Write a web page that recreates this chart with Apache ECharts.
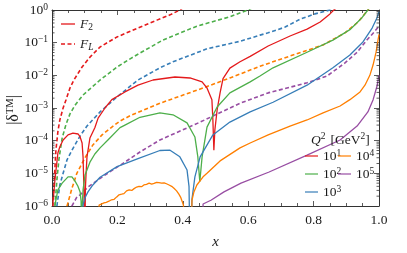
<!DOCTYPE html>
<html><head><meta charset="utf-8">
<script src="https://cdn.jsdelivr.net/npm/echarts@6/dist/echarts.min.js"></script>
<style>html,body{margin:0;padding:0;background:#fff}#c{width:407px;height:253px}</style>
</head><body><div id="c"></div>
<script>
// ---------- data ----------
const qExponents = ['1', '2', '3', '4', '5'];            // Q^2 = 10^n GeV^2
const colors = ['#e41a1c', '#4daf4a', '#377eb8', '#ff7f00', '#984ea3'];
const xTickLabels = ['0.0', '0.2', '0.4', '0.6', '0.8', '1.0'];
const yTickExponents = ['−6', '−5', '−4', '−3', '−2', '−1', '0'];

// F2 (solid lines)
const f2_q1_x = [0.003,0.009,0.018,0.024,0.034,0.049,0.064,0.080,0.086,0.092,0.095,0.098,0.100,0.102,0.104,0.107,0.116,0.131,0.141,0.162,0.183,0.223,0.263,0.309,0.376,0.422,0.459,0.474,0.489,0.492,0.495,0.498,0.505,0.514,0.523,0.544,0.575,0.606,0.661,0.728,0.780,0.820,0.850,0.862,0.880];
const f2_q1_y = [1.3e-6,6.3e-6,4.2e-5,6.5e-5,1.05e-4,1.5e-4,1.7e-4,1.6e-4,1.3e-4,8.5e-5,3.2e-5,2.5e-6,1e-8,3.2e-6,8.9e-6,3.2e-5,1.2e-4,2.5e-4,4.9e-4,1.0e-3,1.8e-3,3.1e-3,5.0e-3,7.2e-3,8.9e-3,8.3e-3,6.3e-3,4.1e-3,1.8e-3,4.3e-4,5.1e-5,2.1e-4,8.7e-4,2.9e-3,7.9e-3,1.66e-2,2.6e-2,3.8e-2,7.9e-2,0.16,0.26,0.43,0.76,1.0,1.4];
const f2_q2_x = [0.009,0.018,0.031,0.049,0.061,0.070,0.079,0.086,0.089,0.091,0.0925,0.095,0.101,0.116,0.131,0.147,0.171,0.208,0.223,0.269,0.330,0.370,0.413,0.437,0.446,0.452,0.459,0.474,0.505,0.544,0.606,0.636,0.676,0.780,0.859,0.911,0.948,0.966,0.980];
const f2_q2_y = [1.07e-6,3.1e-6,5.0e-6,7.8e-6,7.8e-6,5.9e-6,4.1e-6,2.7e-6,1.4e-6,1e-8,1.07e-6,3.1e-6,8.9e-6,2.2e-5,3.9e-5,6.0e-5,1.05e-4,2.5e-4,3.0e-4,5.2e-4,7.1e-4,6.2e-4,3.5e-4,1.3e-4,3.2e-5,5.5e-6,3.2e-5,2.6e-4,1.07e-3,2.9e-3,6.3e-3,9.5e-3,1.7e-2,5.1e-2,0.12,0.25,0.58,1.0,1.6];
const f2_q3_x = [0.092,0.095,0.101,0.110,0.125,0.147,0.199,0.263,0.330,0.361,0.391,0.413,0.419,0.423,0.428,0.437,0.453,0.492,0.544,0.606,0.676,0.780,0.859,0.911,0.951,0.979,0.994,1.0];
const f2_q3_y = [1e-8,1.07e-6,1.8e-6,2.7e-6,4.4e-6,7.6e-6,1.6e-5,2.8e-5,5.0e-5,5.1e-5,3.2e-5,1.26e-5,4.0e-6,1e-8,1.6e-6,7.8e-6,3.2e-5,1.5e-4,3.7e-4,7.6e-4,1.5e-3,5.0e-3,1.7e-2,4.2e-2,0.105,0.28,0.58,0.9];
const f2_q4_x = [0.141,0.144,0.150,0.159,0.166,0.174,0.182,0.190,0.198,0.205,0.213,0.220,0.228,0.236,0.244,0.251,0.259,0.266,0.274,0.281,0.289,0.297,0.305,0.312,0.320,0.327,0.335,0.343,0.350,0.358,0.366,0.373,0.381,0.388,0.394,0.399,0.402,0.404,
                 0.425,0.428,0.434,0.443,0.462,0.474,0.514,0.575,0.606,0.661,0.728,0.780,0.829,0.881,0.911,0.942,0.957,0.972,0.982,0.991,0.997,1.0];
const f2_q4_y = [1e-8,1.07e-6,1.1e-6,1.25e-6,1.3e-6,1.4e-6,1.55e-6,1.6e-6,1.9e-6,2.2e-6,2.3e-6,2.4e-6,2.9e-6,3.1e-6,3.0e-6,3.4e-6,3.8e-6,4.0e-6,3.9e-6,4.4e-6,4.6e-6,5.0e-6,4.7e-6,4.9e-6,5.3e-6,5.2e-6,5.0e-6,5.1e-6,4.8e-6,4.4e-6,4.0e-6,3.5e-6,2.9e-6,2.3e-6,1.8e-6,1.3e-6,1.05e-6,1e-8,
                 1e-8,1.5e-6,2.7e-6,4.4e-6,7.8e-6,1.0e-5,2.4e-5,6.0e-5,8.5e-5,1.5e-4,2.8e-4,4.3e-4,7.1e-4,1.15e-3,1.8e-3,3.1e-3,5.0e-3,1.0e-2,2.1e-2,5.1e-2,0.12,0.18];
const f2_q5_x = [0.459,0.462,0.486,0.526,0.578,0.664,0.780,0.881,0.933,0.966,0.982,0.994,1.0];
const f2_q5_y = [1e-8,1.15e-6,1.5e-6,2.7e-6,5.0e-6,1.1e-5,3.6e-5,1.05e-4,2.8e-4,7.6e-4,1.8e-3,4.7e-3,1.0e-2];

// FL (dashed lines)
const fl_q1_x = [0.002,0.003,0.006,0.012,0.018,0.024,0.034,0.043,0.055,0.067,0.092,0.116,0.147,0.199,0.263,0.321,0.361,0.391,0.420];
const fl_q1_y = [1e-7,1.0e-6,4.4e-6,5.1e-5,1.9e-4,4.3e-4,1.0e-3,1.8e-3,4.1e-3,7.2e-3,1.8e-2,3.6e-2,7.4e-2,0.15,0.28,0.49,0.71,1.0,1.6];
const fl_q2_x = [0.007,0.009,0.015,0.021,0.031,0.043,0.055,0.070,0.095,0.147,0.199,0.239,0.269,0.339,0.443,0.544,0.599,0.620];
const fl_q2_y = [1e-7,1.0e-6,6.3e-6,2.6e-5,1.2e-4,3.2e-4,6.6e-4,1.2e-3,2.5e-3,7.2e-3,1.8e-2,3.2e-2,4.8e-2,0.12,0.32,0.62,1.0,1.26];
const fl_q3_x = [0.012,0.015,0.024,0.034,0.046,0.061,0.086,0.107,0.147,0.199,0.263,0.330,0.370,0.474,0.575,0.636,0.661,0.713,0.758,0.804,0.850,0.870];
const fl_q3_y = [1e-7,1.0e-6,4.4e-6,1.0e-5,2.6e-5,5.1e-5,1.4e-4,2.8e-4,7.6e-4,2.2e-3,7.2e-3,1.7e-2,2.6e-2,6.5e-2,0.11,0.17,0.20,0.30,0.52,0.76,1.0,1.26];
const fl_q4_x = [0.040,0.046,0.061,0.076,0.101,0.125,0.153,0.183,0.208,0.239,0.330,0.443,0.544,0.636,0.728,0.829,0.896,0.936,0.966,0.980];
const fl_q4_y = [1e-7,1.0e-6,3.5e-6,1.0e-5,3.0e-5,7.4e-5,1.5e-4,2.6e-4,4.0e-4,5.8e-4,1.4e-3,3.5e-3,8.3e-3,1.9e-2,3.9e-2,8.5e-2,0.2,0.43,1.0,1.6];
const fl_q5_x = [0.055,0.061,0.075,0.086,0.110,0.162,0.223,0.269,0.330,0.453,0.575,0.661,0.780,0.841,0.896,0.933,0.963,0.985,1.0];
const fl_q5_y = [1e-7,1.0e-6,1.8e-6,2.2e-6,3.8e-6,8.9e-6,2.2e-5,4.5e-5,1.05e-4,3.7e-4,1.4e-3,2.9e-3,5.9e-3,9.5e-3,2.4e-2,5.1e-2,0.12,0.21,0.32];

const f2X = [f2_q1_x, f2_q2_x, f2_q3_x, f2_q4_x, f2_q5_x];
const f2Y = [f2_q1_y, f2_q2_y, f2_q3_y, f2_q4_y, f2_q5_y];
const flX = [fl_q1_x, fl_q2_x, fl_q3_x, fl_q4_x, fl_q5_x];
const flY = [fl_q1_y, fl_q2_y, fl_q3_y, fl_q4_y, fl_q5_y];

// ---------- chart ----------
const serif = '"Liberation Serif", "DejaVu Serif", serif';
const ink = '#1a1a1a';
const base = {fontFamily: serif, color: ink, fontWeight: 'normal'};
const rich = {
  b:   Object.assign({}, base, {fontSize: 13.5, lineHeight: 16}),
  i:   Object.assign({}, base, {fontSize: 13.5, lineHeight: 16, fontStyle: 'italic'}),
  sup: Object.assign({}, base, {fontSize: 9.5, lineHeight: 9, verticalAlign: 'top'}),
  sub: Object.assign({}, base, {fontSize: 9.5, lineHeight: 9, verticalAlign: 'bottom'}),
  subi:Object.assign({}, base, {fontSize: 9.5, lineHeight: 9, verticalAlign: 'bottom', fontStyle: 'italic'}),
  nb:  Object.assign({}, base, {fontSize: 16, lineHeight: 18}),
  nsup:Object.assign({}, base, {fontSize: 10.5, lineHeight: 10, verticalAlign: 'top'})
};
const pairs = (xs, ys) => xs.map((x, i) => [x, ys[i]]);
const lineCommon = {type: 'line', showSymbol: false, symbol: 'none', clip: true, animation: false};
const series = [];
qExponents.forEach((e, k) => {
  series.push(Object.assign({}, lineCommon, {name: 'Q' + e, data: pairs(f2X[k], f2Y[k]),
    color: colors[k], lineStyle: {width: 1.3, color: colors[k]}, z: 3}));
});
qExponents.forEach((e, k) => {
  series.push(Object.assign({}, lineCommon, {name: 'Q' + e, data: pairs(flX[k], flY[k]),
    color: colors[k], lineStyle: {width: 1.6, color: colors[k], type: [4, 2.5]}, z: 2}));
});
series.push({name: 'F2', type: 'line', data: [], symbol: 'none', color: colors[0]});
series.push({name: 'FL', type: 'line', data: [], symbol: 'none', color: colors[0]});

// minor ticks of the log axis (2..9 per decade), placed through the axis scale
const yMinor = [];
for (let d = -6; d < 0; d++) for (let m = 2; m <= 9; m++) yMinor.push([0, m * Math.pow(10, d)]);
series.push({type: 'custom', silent: true, z: 10, data: yMinor, clip: false, animation: false,
  renderItem: (params, api) => {
    const v = api.value(1);
    const pl = api.coord([0, v]), pr = api.coord([1, v]);
    const st = {stroke: '#333', lineWidth: 0.8};
    return {type: 'group', children: [
      {type: 'line', shape: {x1: pl[0], y1: pl[1], x2: pl[0] + 2.5, y2: pl[1]}, style: st},
      {type: 'line', shape: {x1: pr[0], y1: pr[1], x2: pr[0] - 2.5, y2: pr[1]}, style: st}
    ]};
  }});

const axisLine = {show: true, onZero: false, lineStyle: {color: '#333', width: 1}};
const tick = {show: true, inside: true, length: 5, lineStyle: {color: '#333', width: 0.8}};
const minor = {show: true, splitNumber: 4, length: 3, lineStyle: {color: '#333', width: 0.8}};

const solidIcon = 'path://M0,0H14V1.3H0Z';
const dashIcon = 'path://M0,0H4V1.6H0Z M6.5,0H10.5V1.6H6.5Z M13,0H14V1.6H13Z';
const legendCommon = {itemHeight: 12, textStyle: {rich, color: ink}, selectedMode: false, padding: 0, symbolKeepAspect: true};
const option = {
  animation: false,
  backgroundColor: '#fff',
  grid: {left: 52, right: 28, top: 10, bottom: 47, containLabel: false, outerBoundsMode: 'none'},
  title: {text: '{i|Q}{sup|2} {b|[GeV}{sup|2}{b|]}', left: 311, top: 131, padding: 0, textStyle: {rich, fontWeight: 'normal'}},
  graphic: [{type: 'text', x: 14, y: 110, rotation: Math.PI / 2, silent: true,
    style: {text: '{nb||δ}{nsup|TM}{nb||}', rich, align: 'center', verticalAlign: 'middle', fill: ink}}],
  legend: [
    Object.assign({}, legendCommon, {data: [{name: 'F2', icon: solidIcon}, {name: 'FL', icon: dashIcon}],
      orient: 'vertical', left: 61, top: 17, itemGap: 5, itemWidth: 14,
      formatter: n => n === 'F2' ? '{i|F}{sub|2}' : '{i|F}{subi|L}'}),
    Object.assign({}, legendCommon, {data: ['Q1', 'Q2', 'Q3'].map(n => ({name: n, icon: solidIcon})),
      orient: 'vertical', left: 305, top: 148, itemGap: 3, itemWidth: 13,
      formatter: n => '{b|10}{sup|' + n.slice(1) + '}'}),
    Object.assign({}, legendCommon, {data: ['Q4', 'Q5'].map(n => ({name: n, icon: solidIcon})),
      orient: 'vertical', left: 338, top: 148, itemGap: 3, itemWidth: 13,
      formatter: n => '{b|10}{sup|' + n.slice(1) + '}'})
  ],
  xAxis: [
    {type: 'value', min: 0, max: 1, interval: 0.2, position: 'bottom', axisLine, axisTick: tick, minorTick: minor,
      splitLine: {show: false},
      axisLabel: {fontFamily: serif, fontSize: 13.5, color: ink, margin: 7,
        formatter: v => xTickLabels[Math.round(v / 0.2)]},
      name: 'x', nameLocation: 'middle', nameGap: 29,
      nameTextStyle: {fontFamily: serif, fontSize: 15, fontStyle: 'italic', color: ink}},
    {type: 'value', min: 0, max: 1, interval: 0.2, position: 'top', axisLine, axisTick: tick, minorTick: minor,
      splitLine: {show: false}, axisLabel: {show: false}}
  ],
  yAxis: [
    {type: 'log', logBase: 10, min: 1e-6, max: 1, splitNumber: 6, position: 'left', axisLine, axisTick: tick,
      splitLine: {show: false}, minorTick: {show: false},
      axisLabel: {margin: 4, formatter: v => '{b|10}{sup|' + yTickExponents[Math.round(Math.log10(v)) + 6] + '}', rich}},
    {type: 'log', logBase: 10, min: 1e-6, max: 1, splitNumber: 6, position: 'right', axisLine, axisTick: tick,
      splitLine: {show: false}, minorTick: {show: false}, axisLabel: {show: false}}
  ],
  series
};
const chart = echarts.init(document.getElementById('c'), null, {renderer: 'canvas'});
chart.setOption(option);
</script>
</body></html>
